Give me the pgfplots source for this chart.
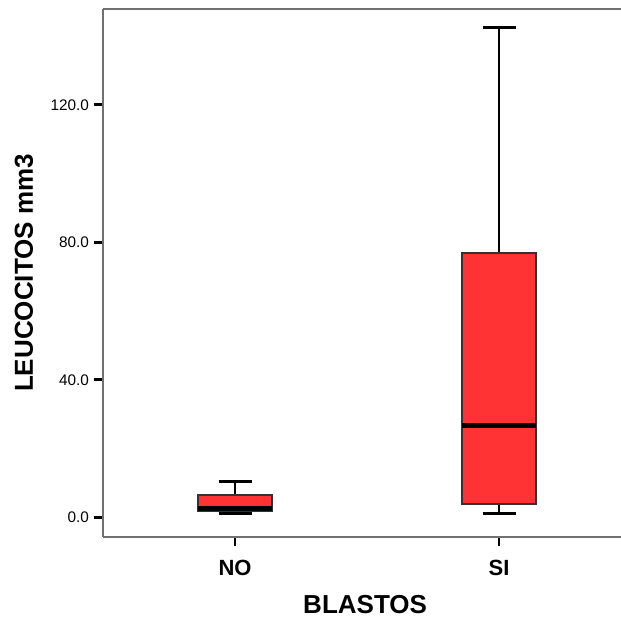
\documentclass[border=0pt]{standalone}
\usepackage{pgfplots}
\pgfplotsset{compat=1.18}
\usepackage{fontspec}
\setmainfont{Liberation Sans}
\definecolor{boxred}{HTML}{FF3333}
\definecolor{spinegray}{HTML}{707070}
\begin{document}
\begin{tikzpicture}
\begin{axis}[
  scale only axis,
  width=388.5pt, height=396pt,
  xmin=0.5, xmax=2.462,
  ymin=-5.73, ymax=147.9,
  axis lines*=left,
  axis line style={-, draw=spinegray, line width=1.5pt},
  xtick={1,2}, xticklabels={NO,SI},
  ytick={0,40,80,120},
  tick align=outside,
  major tick length=7pt,
  x tick style={draw=black, line width=2pt},
  y tick style={draw=black, line width=2.2pt},
  yticklabel style={/pgf/number format/fixed, /pgf/number format/fixed zerofill, /pgf/number format/precision=1, /pgf/number format/assume math mode=true, font=\fontsize{11.5}{13}\selectfont},
  xticklabel style={font=\fontsize{16.5}{19}\selectfont\bfseries},
  xticklabel shift=6.5pt,
  ylabel={LEUCOCITOS mm3},
  xlabel={BLASTOS},
  ylabel style={font=\fontsize{19.5}{22}\selectfont\bfseries, at={(rel axis cs:-0.1525,0.5)}, anchor=center},
  xlabel style={font=\fontsize{19.5}{22}\selectfont\bfseries, at={(rel axis cs:0.506,-0.127)}, anchor=center},
  clip=false,
]
% whiskers
\addplot[black, line width=2.2pt] coordinates {(1,6.5) (1,10.3)};
\addplot[black, line width=2.2pt] coordinates {(1,1.8) (1,1.0)};
\addplot[black, line width=2.2pt] coordinates {(0.9375,10.3) (1.0625,10.3)};
\addplot[black, line width=2.2pt] coordinates {(0.9375,1.0) (1.0625,1.0)};
\addplot[black, line width=2.2pt] coordinates {(2,76.9) (2,142.4)};
\addplot[black, line width=2.2pt] coordinates {(2,3.9) (2,1.0)};
\addplot[black, line width=2.2pt] coordinates {(1.9375,142.4) (2.0625,142.4)};
\addplot[black, line width=2.2pt] coordinates {(1.9375,1.0) (2.0625,1.0)};
% boxes
\addplot[draw=black!80, line width=0.9pt, fill=boxred] coordinates {(0.86,1.8) (1.14,1.8) (1.14,6.5) (0.86,6.5)} -- cycle;
\addplot[draw=black!80, line width=0.9pt, fill=boxred] coordinates {(1.86,3.9) (2.14,3.9) (2.14,76.9) (1.86,76.9)} -- cycle;
% medians
\addplot[black, line width=3.2pt] coordinates {(0.86,2.6) (1.14,2.6)};
\addplot[black, line width=3.2pt] coordinates {(1.86,26.7) (2.14,26.7)};
\draw[spinegray, line width=1.5pt] (rel axis cs:0,1) -- (rel axis cs:1,1);
\coordinate (SW) at (rel axis cs:0,0);
\coordinate (NE) at (rel axis cs:1,1);
\end{axis}
\pgfresetboundingbox
\path[use as bounding box] ([xshift=-77.25pt, yshift=-60.75pt]SW) rectangle ([yshift=6.75pt]NE);
\end{tikzpicture}
\end{document}
